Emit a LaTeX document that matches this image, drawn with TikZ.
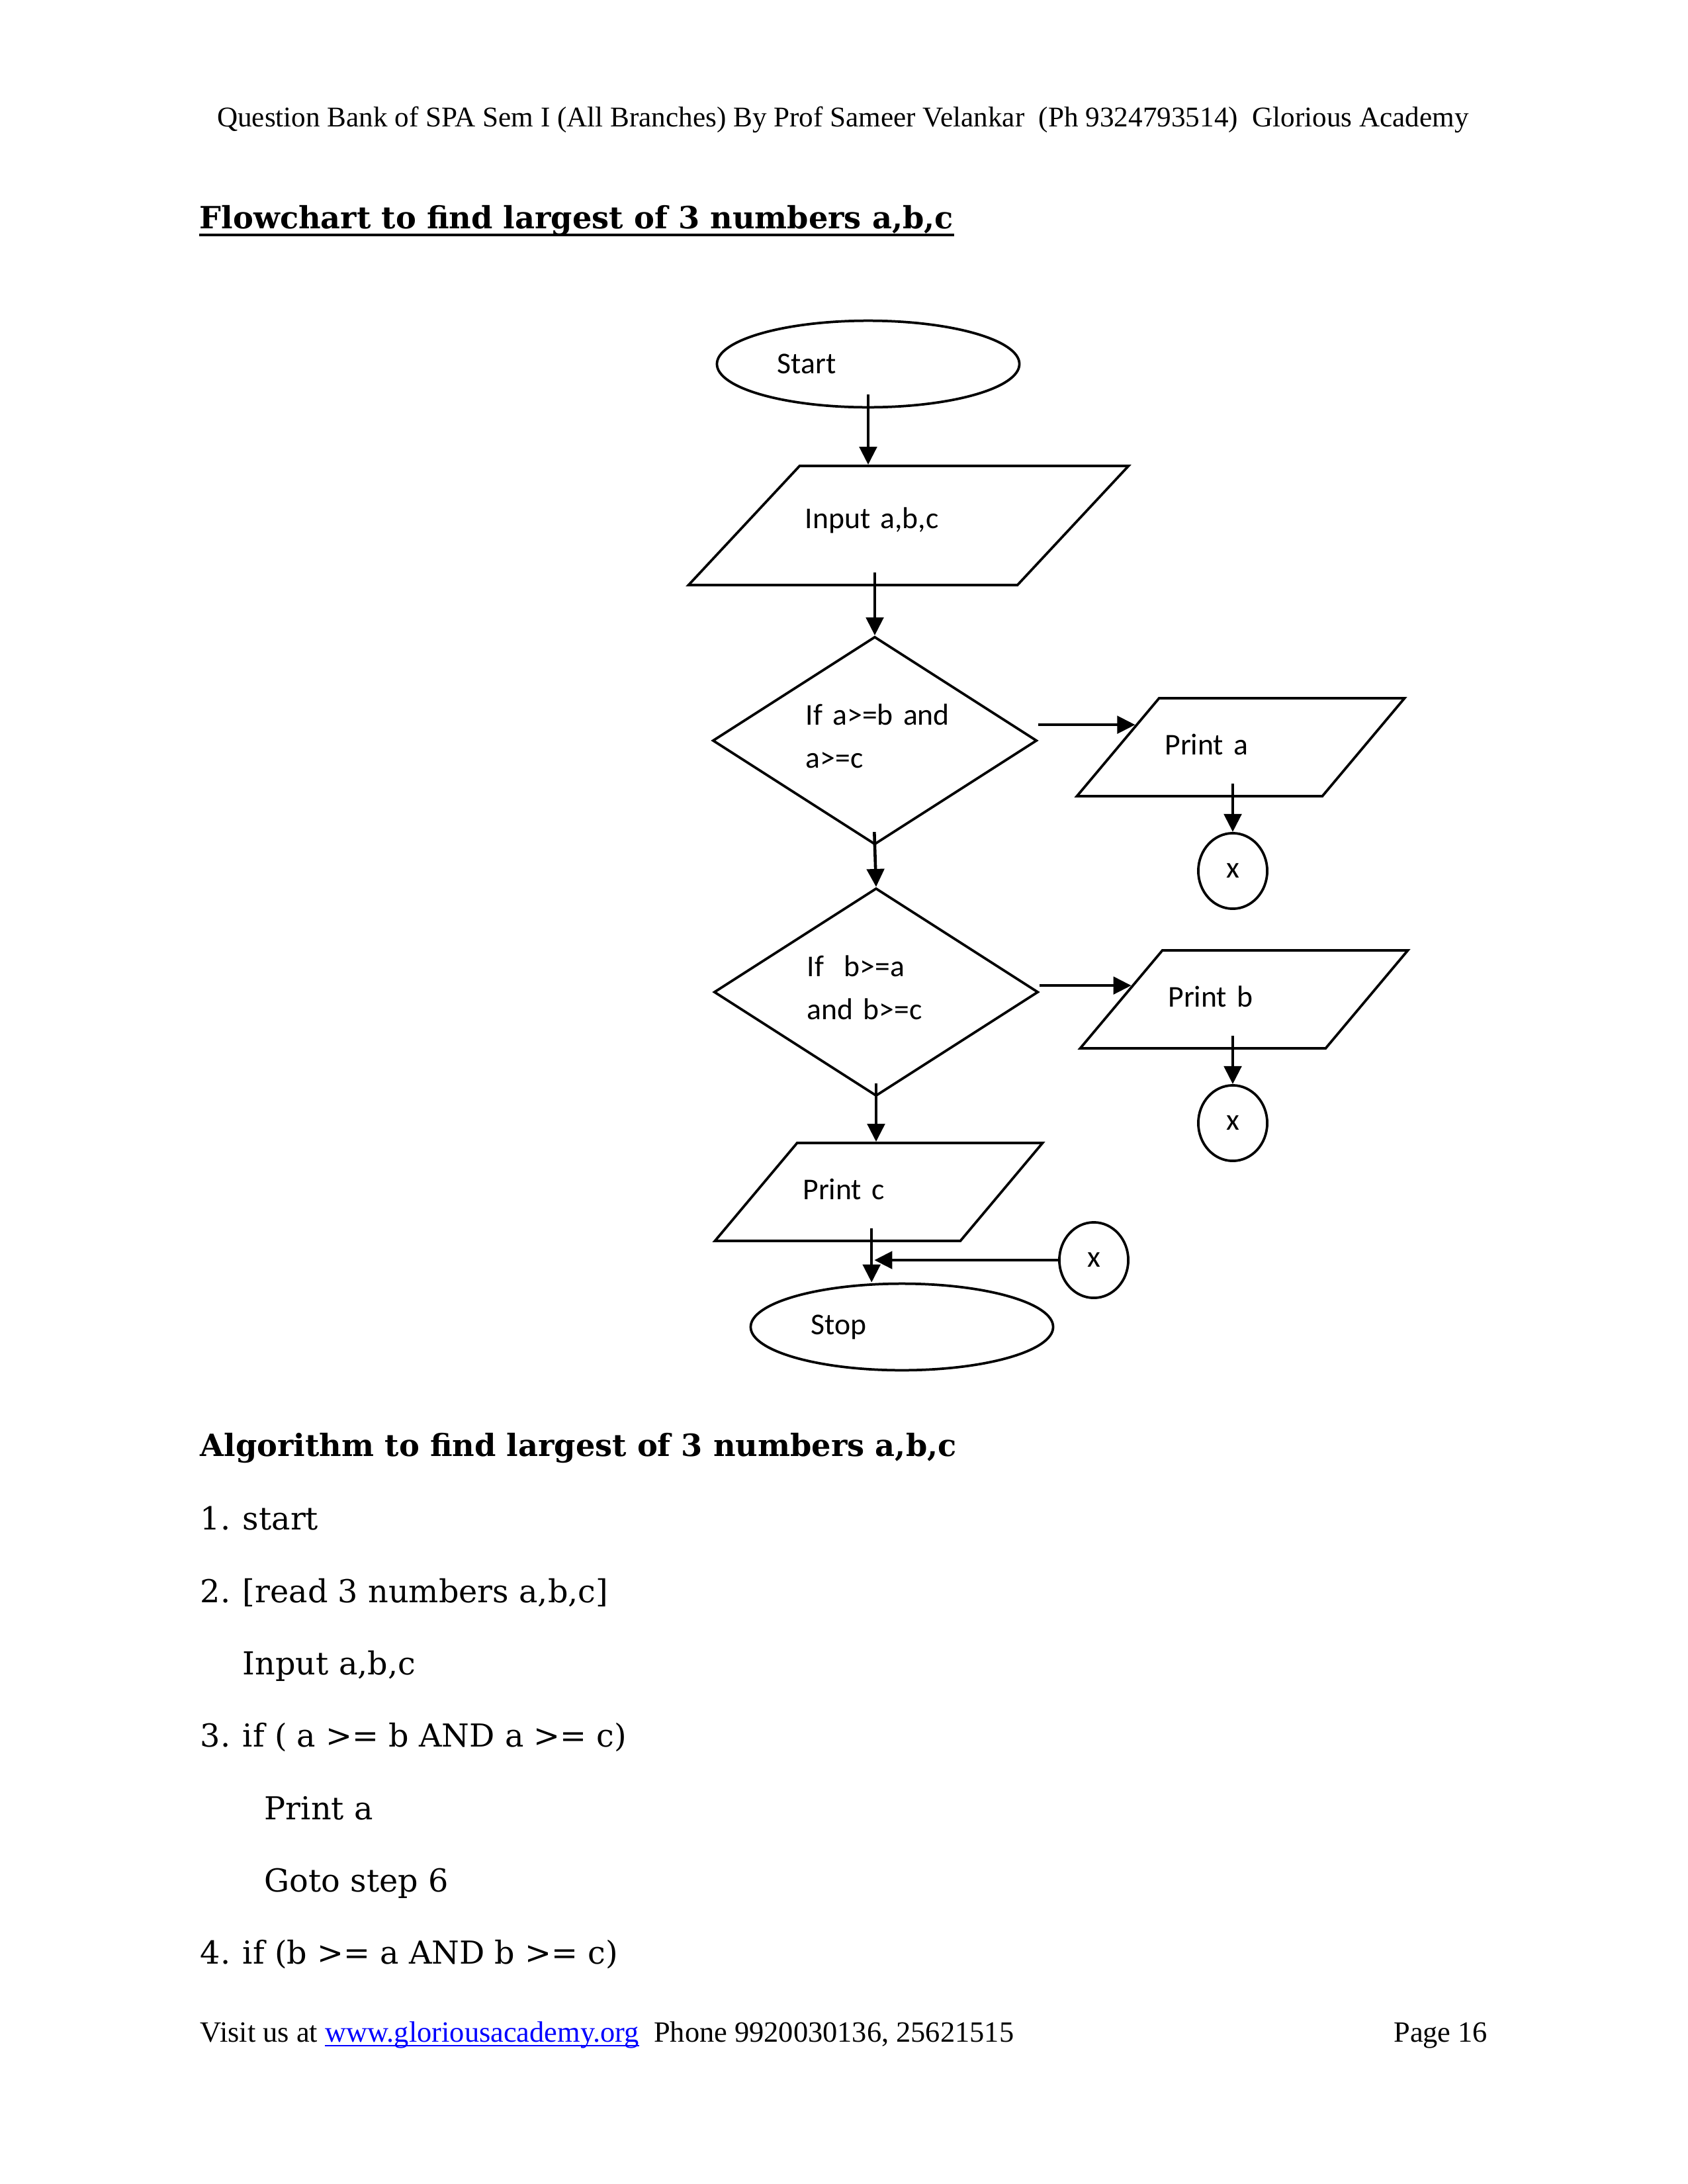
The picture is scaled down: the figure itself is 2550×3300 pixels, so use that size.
\documentclass[tikz,border=0pt]{standalone}
\usepackage{fontspec}
\newfontfamily\calibrifont{Carlito}
\newfontfamily\algofont{DejaVu Serif}
\newfontfamily\headfont{DejaVu Serif}
\newfontfamily\pagefont{Liberation Serif}
\usetikzlibrary{shapes.geometric,arrows.meta}
\tikzset{basic/.style={draw,line width=0.9bp,font=\calibrifont\fontsize{11}{15.8}\selectfont,align=left}}
\tikzset{startstop/.style={basic,ellipse,text width=66bp,minimum width=109.7bp,minimum height=31.4bp,inner sep=1bp}}
\tikzset{io/.style={basic,trapezium,trapezium left angle=50,trapezium right angle=130,trapezium stretches body,inner xsep=2bp,inner ysep=0pt,text width=55bp,text height=20.6bp,text depth=14.9bp,minimum width=118.8bp}}
\tikzset{decision/.style={basic,diamond,aspect=1.56,text width=50bp,text depth=19bp,minimum width=117.6bp,minimum height=75.4bp,inner sep=1bp}}
\tikzset{connector/.style={basic,ellipse,align=center,minimum width=25bp,minimum height=27.4bp,inner sep=0pt}}
\tikzset{flow/.style={draw,->,line width=1.1bp,shorten <=-5bp}}
\tikzset{pagetext/.style={anchor=base west,inner sep=0pt,font=\pagefont\fontsize{10.7}{13}\selectfont}}
\tikzset{algotext/.style={anchor=base west,inner sep=0pt,font=\algofont\fontsize{11.5}{14}\selectfont}}
\tikzset{heading/.style={anchor=base west,inner sep=0pt,font=\headfont\bfseries\fontsize{11.15}{13}\selectfont}}

\begin{document}
\begin{tikzpicture}[x=0.24bp,y=-0.24bp,>={Triangle[length=6.5bp,width=6.3bp]}]
    \useasboundingbox (0,0) rectangle (2550,3300);
    % header and title
    \node[pagetext,anchor=base,font=\pagefont\fontsize{10.4}{13}\selectfont] (header) at (1274,191) {Question Bank of SPA Sem I (All Branches) By Prof Sameer Velankar~ (Ph 9324793514)~ Glorious Academy};
    \node[heading] (title) at (301,345) {Flowchart to find largest of 3 numbers a,b,c};
    \draw[line width=1bp] ([yshift=-2.4bp]title.base west) -- ([yshift=-2.4bp]title.base east);
    % flowchart
    \node[startstop] (start) at (1312,550) {Start};
    \node[io,trapezium left angle=47,trapezium right angle=133,text width=75bp,text height=22.6bp,text depth=20.6bp,minimum width=159.4bp] (input) at (1373,794) {Input a,b,c};
        \path[flow] (start.south) -- (start.south |- input.north);
    \node[decision] (if1) at (1322,1119) {If~a>=b~and\\a>=c};
        \path[flow] (input.south -| if1.north) -- (if1.north);
    \node[io] (printa) at (1875,1129) {Print a};
        \path[flow,shorten <=0pt] (if1.east |- printa.168) -- (printa.168);
    \node[connector] (xa) at (1863,1316) {x};
        \path[flow] (printa.south -| xa.north) -- (xa.north);
    \node[decision] (if2) at (1324,1499) {If~~b>=a\\and~b>=c};
        \path[flow] (if1.south) -- (if2.north);
    \node[io] (printb) at (1880,1510) {Print b};
        \path[flow,shorten <=0pt] (if2.east |- printb.173) -- (printb.173);
    \node[connector] (xb) at (1863,1697) {x};
        \path[flow] (printb.south -| xb.north) -- (xb.north);
    \node[io] (printc) at (1328,1801) {Print c};
        \path[flow] (if2.south) -- (if2.south |- printc.north);
    \node[connector] (xc) at (1653,1904) {x};
    \node[startstop] (stop) at (1363,2005) {Stop};
    \coordinate (drop) at ([xshift=-2.6bp]printc.south);
        \path[flow] (drop) -- (drop |- stop.north);
    \coordinate (join) at (drop |- xc.west);
        \path[flow,shorten <=0pt,shorten >=1bp] (xc.west) -- (join);
    % algorithm
    \node[heading] (algohead) at (302,2200) {Algorithm to find largest of 3 numbers a,b,c};
    \node[algotext] (step1) at (302,2311) {\makebox[15.4bp][l]{1.}start};
    \node[algotext] (step2) at (302,2421) {\makebox[15.4bp][l]{2.}[read 3 numbers a,b,c]};
    \node[algotext] (read) at (366,2530) {Input a,b,c};
    \node[algotext] (step3) at (302,2639) {\makebox[15.4bp][l]{3.}if ( a >= b AND a >= c)};
    \node[algotext] (showa) at (399,2749) {Print a};
    \node[algotext] (gotosix) at (399,2858) {Goto step 6};
    \node[algotext] (step4) at (302,2967) {\makebox[15.4bp][l]{4.}if (b >= a AND b >= c)};
    % footer
    \node[pagetext] (visit) at (302,3085) {Visit us at \textcolor{blue}{\underline{\smash{www.gloriousacademy.org}}}~ Phone 9920030136, 25621515};
    \node[pagetext,anchor=base east] (page) at (2249,3085) {Page 16};
\end{tikzpicture}
\end{document}
